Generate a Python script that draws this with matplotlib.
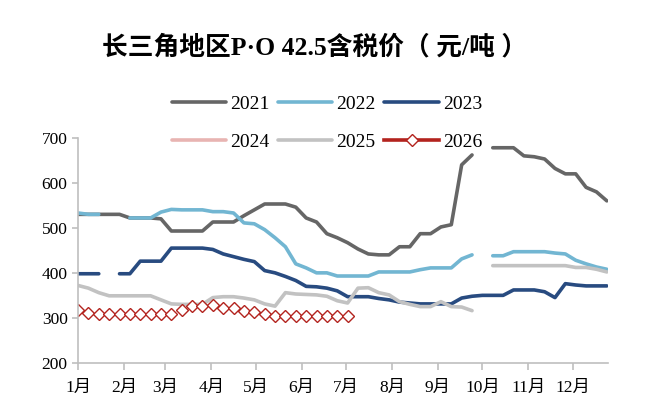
import numpy as np
import matplotlib
matplotlib.use("Agg")
import matplotlib.pyplot as plt

plt.rcParams['font.family'] = ['Liberation Serif', 'Noto Sans CJK SC']

nan = np.nan

# weekly prices, one value per week (52 weeks)
p2021 = [530, 530, 530, 530, 530, 522, 522, 522, 520, 493,
         493, 493, 493, 513, 513, 513, 527, 540, 553, 553,
         553, 546, 522, 513, 487, 478, 467, 453, 442, 440,
         440, 458, 458, 487, 487, 502, 507, 640, 662, nan,
         678, 678, 678, 660, 658, 653, 632, 620, 620, 590,
         580, 560]
p2022 = [533, 530, 530, nan, nan, 522, 522, 522, 535, 541,
         540, 540, 540, 536, 536, 533, 511, 509, 496, 478,
         458, 420, 411, 400, 400, 393, 393, 393, 393, 402,
         402, 402, 402, 407, 411, 411, 411, 431, 440, nan,
         438, 438, 447, 447, 447, 447, 444, 442, 428, 420,
         413, 408]
p2023 = [398, 398, 398, nan, 398, 398, 426, 426, 426, 455,
         455, 455, 455, 452, 442, 436, 430, 425, 405, 400,
         392, 383, 370, 369, 366, 360, 347, 347, 347, 343,
         340, 335, 333, 331, 331, 331, 331, 344, 348, 350,
         350, 350, 362, 362, 362, 358, 345, 376, 373, 371,
         371, 371]
p2024 = [nan] * 52
p2025 = [372, 366, 356, 349, 349, 349, 349, 349, 340, 331,
         330, 330, 330, 345, 347, 347, 344, 340, 331, 326,
         356, 353, 352, 351, 348, 338, 333, 366, 367, 356,
         351, 336, 330, 325, 325, 336, 325, 324, 316, nan,
         416, 416, 416, 416, 416, 416, 416, 416, 412, 412,
         408, 402]
p2026 = [317, 311, 308, 308, 308, 308, 308, 308, 308, 308,
         318, 327, 327, 329, 322, 322, 315, 313, 308, 305,
         304, 304, 304, 304, 304, 304, 304]

month_start = [0, 31, 59, 90, 120, 151, 181, 212, 243, 273, 304, 334]
month_labels = [f'{m}月' for m in range(1, 13)]
years = ['2021', '2022', '2023', '2024', '2025', '2026']
colors = ['#666666', '#72b6d2', '#284b80', '#e8b4b2', '#c2c2c2', '#b3231e']

fig = plt.figure(figsize=(6.67, 4.19), dpi=100)
ax = fig.add_axes([0.117, 0.134, 0.795, 0.537])

handles = []
series = [p2021, p2022, p2023, p2024, p2025]
for name, vals, c in zip(years[:5], series, colors[:5]):
    x = np.arange(len(vals)) * 7
    ln, = ax.plot(x, vals, color=c, lw=2.6, label=name, solid_capstyle='round')
    handles.append(ln)

x26 = np.arange(len(p2026)) * 7
ax.plot(x26, p2026, linestyle='none', marker='D', ms=6, mfc='white',
        mec=colors[5], mew=1.0)
# legend proxy for 2026 (line + marker)
proxy, = ax.plot([], [], color=colors[5], lw=2.6, marker='D', ms=6,
                 mfc='white', mec=colors[5], mew=1.0)
handles.append(proxy)

ax.set_xlim(0, 358)
ax.set_ylim(200, 700)
ax.set_yticks(range(200, 701, 100))
ax.set_xticks(month_start)
ax.set_xticklabels(month_labels)

for s in ['top', 'right']:
    ax.spines[s].set_visible(False)
for s in ['left', 'bottom']:
    ax.spines[s].set_color('#bfbfbf')
    ax.spines[s].set_linewidth(1.2)
ax.tick_params(axis='both', colors='#bfbfbf', labelcolor='black',
               labelsize=12.5, length=4, width=1.2)
ax.tick_params(axis='x', pad=7, length=5)

# legend fills column by column, so reorder to get rows 2021-2023 / 2024-2026
order = [0, 3, 1, 4, 2, 5]
fig.legend([handles[i] for i in order], [years[i] for i in order],
           loc='center', bbox_to_anchor=(0.49, 0.706), ncol=3,
           frameon=False, fontsize=14, handlelength=2.8,
           handletextpad=0.2, columnspacing=0.45, labelspacing=1.05)

fig.text(0.472, 0.888, '长三角地区P·O 42.5含税价（ 元/吨 ）', ha='center',
         va='center', fontsize=18.5, fontweight='bold')

fig.savefig('out.png', dpi=100)
